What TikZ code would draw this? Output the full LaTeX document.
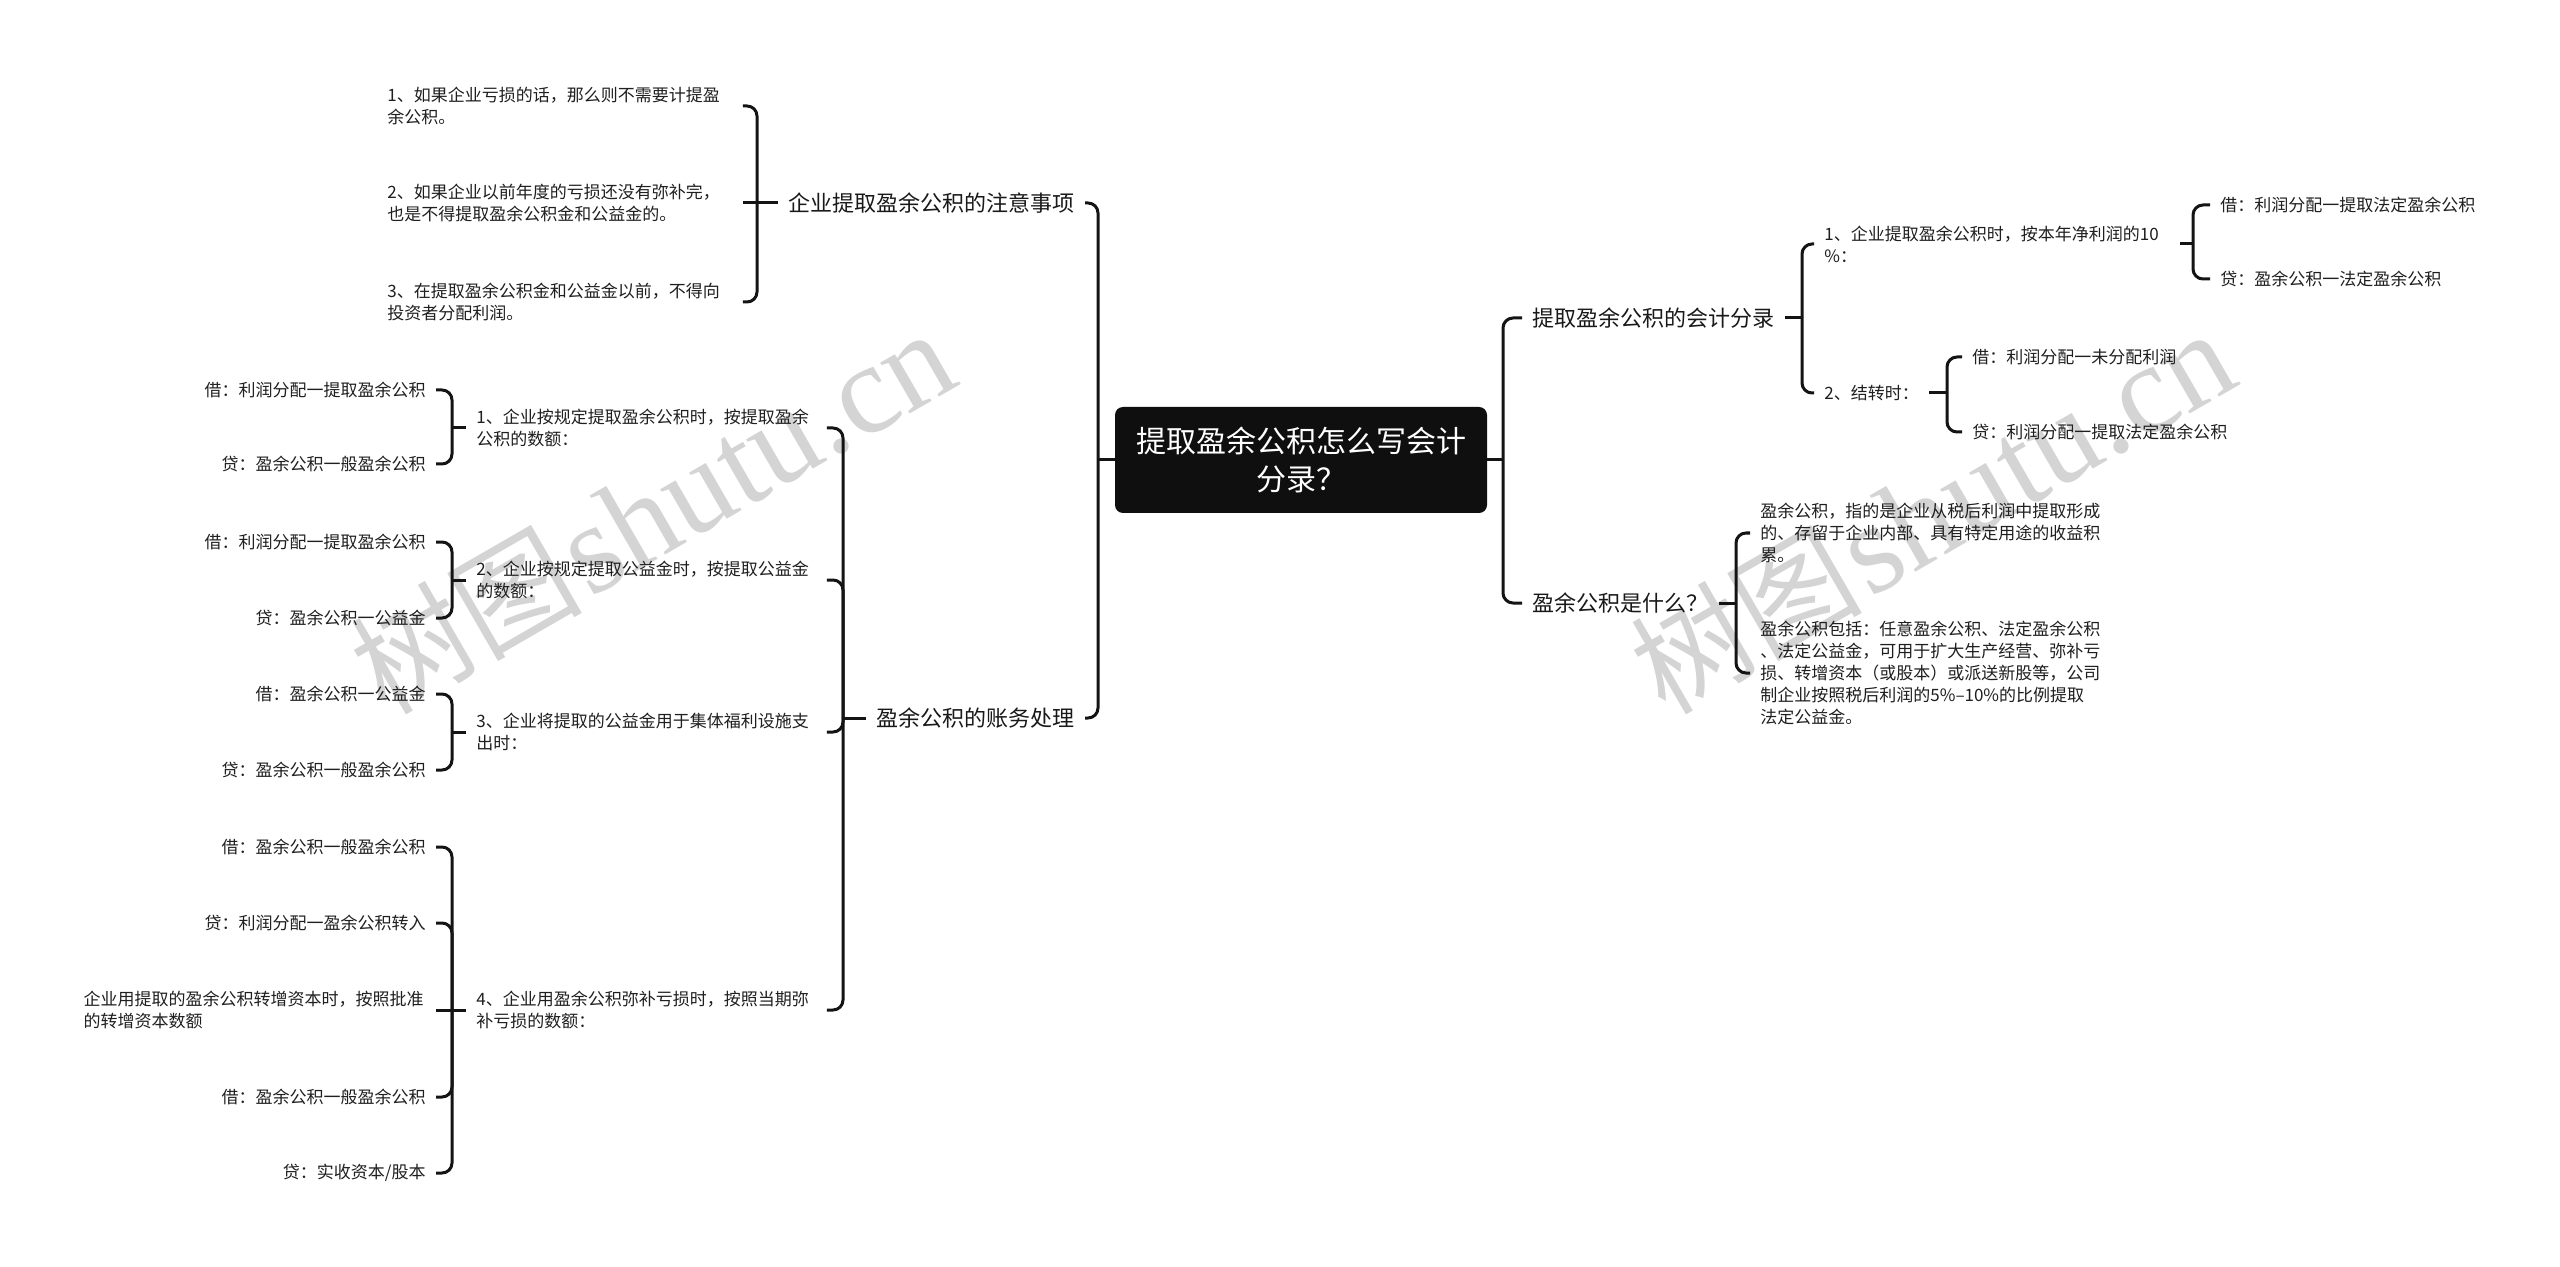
\documentclass[tikz,border=0pt]{standalone}
\usepackage{fontspec}
\setmainfont{Noto Sans CJK SC}
\newfontfamily\wmlatin{Liberation Serif}
\newfontfamily\wmcjk{Noto Sans CJK SC}
\begin{document}
\begin{tikzpicture}[x=0.5pt,y=-0.5pt,
  conn/.style={line width=1.5pt, draw=black!92, rounded corners=5pt},
  central/.style={fill=black!94, rounded corners=4pt, text=white, font=\fontsize{15pt}{19pt}\selectfont, align=center, minimum width=186pt, minimum height=53pt, inner sep=0pt},
  lvone/.style={font=\fontsize{11pt}{14pt}\selectfont, inner xsep=5pt, inner ysep=2pt, text=black!90},
  leaf/.style={font=\fontsize{8.5pt}{11pt}\selectfont, inner xsep=5pt, inner ysep=2pt, text=black!88},
  leafbox/.style={leaf, text width=#1, align=left},
  wm/.style={text=black!17, rotate=30, inner sep=0pt}
]
\useasboundingbox (0,0) rectangle (2560,1267);
\fill[white] (0,0) rectangle (2560,1267);

% watermarks
\node[wm] (w1) at (652,512) {{\wmcjk\fontsize{58pt}{60pt}\selectfont 树图} {\wmlatin\fontsize{64pt}{66pt}\selectfont shutu.cn}};
\node[wm] (w2) at (1932,512) {{\wmcjk\fontsize{58pt}{60pt}\selectfont 树图} {\wmlatin\fontsize{64pt}{66pt}\selectfont shutu.cn}};

% central
\node[central] (c) at (1301,460) {提取盈余公积怎么写会计\\分录？};

% junctions
\coordinate (jL) at (1098,460);
\coordinate (jR) at (1503,460);
\coordinate (jK1) at (757,203);
\coordinate (jK2) at (843,718);
\coordinate (jB1) at (452,428);
\coordinate (jB2) at (452,580);
\coordinate (jB3) at (452,732);
\coordinate (jB4) at (452,1010);
\coordinate (jR1) at (1802,318);
\coordinate (jR1a) at (2193,244);
\coordinate (jR1b) at (1947,393);
\coordinate (jR2) at (1736,603);

% left level one
\node[lvone, anchor=east] (k1) at (1085,203) {企业提取盈余公积的注意事项};
\node[lvone, anchor=east] (k2) at (1085,718) {盈余公积的账务处理};

% k1 children
\node[leafbox=172.5pt, anchor=west] (a1) at (377,106) {1、如果企业亏损的话，那么则不需要计提盈\\余公积。};
\node[leafbox=172.5pt, anchor=west] (a2) at (377,203) {2、如果企业以前年度的亏损还没有弥补完，\\也是不得提取盈余公积金和公益金的。};
\node[leafbox=172.5pt, anchor=west] (a3) at (377,302) {3、在提取盈余公积金和公益金以前，不得向\\投资者分配利润。};

% k2 children
\node[leafbox=170pt, anchor=west] (b1) at (466,428) {1、企业按规定提取盈余公积时，按提取盈余\\公积的数额：};
\node[leafbox=170pt, anchor=west] (b2) at (466,580) {2、企业按规定提取公益金时，按提取公益金\\的数额：};
\node[leafbox=170pt, anchor=west] (b3) at (466,732) {3、企业将提取的公益金用于集体福利设施支\\出时：};
\node[leafbox=170pt, anchor=west] (b4) at (466,1010) {4、企业用盈余公积弥补亏损时，按照当期弥\\补亏损的数额：};

% b leaves
\node[leaf, anchor=east] (b1a) at (436,390) {借：利润分配一提取盈余公积};
\node[leaf, anchor=east] (b1b) at (436,464) {贷：盈余公积一般盈余公积};
\node[leaf, anchor=east] (b2a) at (436,542) {借：利润分配一提取盈余公积};
\node[leaf, anchor=east] (b2b) at (436,618) {贷：盈余公积一公益金};
\node[leaf, anchor=east] (b3a) at (436,694) {借：盈余公积一公益金};
\node[leaf, anchor=east] (b3b) at (436,770) {贷：盈余公积一般盈余公积};
\node[leaf, anchor=east] (b4a) at (436,847) {借：盈余公积一般盈余公积};
\node[leaf, anchor=east] (b4b) at (436,923) {贷：利润分配一盈余公积转入};
\node[leafbox=171pt, anchor=east] (b4c) at (436,1010) {企业用提取的盈余公积转增资本时，按照批准\\的转增资本数额};
\node[leaf, anchor=east] (b4d) at (436,1097) {借：盈余公积一般盈余公积};
\node[leaf, anchor=east] (b4e) at (436,1173) {贷：实收资本/股本};

% right level one
\node[lvone, anchor=west] (r1) at (1522,318) {提取盈余公积的会计分录};
\node[lvone, anchor=west] (r2) at (1522,603) {盈余公积是什么？};

% r1 children
\node[leafbox=172.5pt, anchor=west] (r1a) at (1814,244) {1、企业提取盈余公积时，按本年净利润的10\\\%：};
\node[leaf, anchor=west] (r1b) at (1814,393) {2、结转时：};
\node[leaf, anchor=west] (r1a1) at (2210,205) {借：利润分配一提取法定盈余公积};
\node[leaf, anchor=west] (r1a2) at (2210,279) {贷：盈余公积一法定盈余公积};
\node[leaf, anchor=west] (r1b1) at (1962,357) {借：利润分配一未分配利润};
\node[leaf, anchor=west] (r1b2) at (1962,432) {贷：利润分配一提取法定盈余公积};

% r2 children
\node[leafbox=172.5pt, anchor=west] (r2a) at (1750,533) {盈余公积，指的是企业从税后利润中提取形成\\的、存留于企业内部、具有特定用途的收益积\\累。};
\node[leafbox=172.5pt, anchor=west] (r2b) at (1750,673) {盈余公积包括：任意盈余公积、法定盈余公积\\、法定公益金，可用于扩大生产经营、弥补亏\\损、转增资本（或股本）或派送新股等，公司\\制企业按照税后利润的5\%–10\%的比例提取\\法定公益金。};

% connectors: central
\draw[conn] (c.west) -- (jL);
\draw[conn] (jL) |- (k1.east);
\draw[conn] (jL) |- (k2.east);
\draw[conn] (c.east) -- (jR);
\draw[conn] (jR) |- (r1.west);
\draw[conn] (jR) |- (r2.west);

% k1
\draw[conn] (k1.west) -- (jK1);
\draw[conn] (jK1) |- (a1.east);
\draw[conn] (jK1) -- (a2.east);
\draw[conn] (jK1) |- (a3.east);

% k2
\draw[conn] (k2.west) -- (jK2);
\draw[conn] (jK2) |- (b1.east);
\draw[conn] (jK2) |- (b2.east);
\draw[conn] (jK2) |- (b3.east);
\draw[conn] (jK2) |- (b4.east);

% b groups
\draw[conn] (b1.west) -- (jB1);
\draw[conn] (jB1) |- (b1a.east);
\draw[conn] (jB1) |- (b1b.east);
\draw[conn] (b2.west) -- (jB2);
\draw[conn] (jB2) |- (b2a.east);
\draw[conn] (jB2) |- (b2b.east);
\draw[conn] (b3.west) -- (jB3);
\draw[conn] (jB3) |- (b3a.east);
\draw[conn] (jB3) |- (b3b.east);
\draw[conn] (b4.west) -- (jB4);
\draw[conn] (jB4) |- (b4a.east);
\draw[conn] (jB4) |- (b4b.east);
\draw[conn] (jB4) -- (b4c.east);
\draw[conn] (jB4) |- (b4d.east);
\draw[conn] (jB4) |- (b4e.east);

% r1
\draw[conn] (r1.east) -- (jR1);
\draw[conn] (jR1) |- (r1a.west);
\draw[conn] (jR1) |- (r1b.west);
\draw[conn] (r1a.east) -- (jR1a);
\draw[conn] (jR1a) |- (r1a1.west);
\draw[conn] (jR1a) |- (r1a2.west);
\draw[conn] (r1b.east) -- (jR1b);
\draw[conn] (jR1b) |- (r1b1.west);
\draw[conn] (jR1b) |- (r1b2.west);

% r2
\draw[conn] (r2.east) -- (jR2);
\draw[conn] (jR2) |- (r2a.west);
\draw[conn] (jR2) |- (r2b.west);
\end{tikzpicture}
\end{document}
